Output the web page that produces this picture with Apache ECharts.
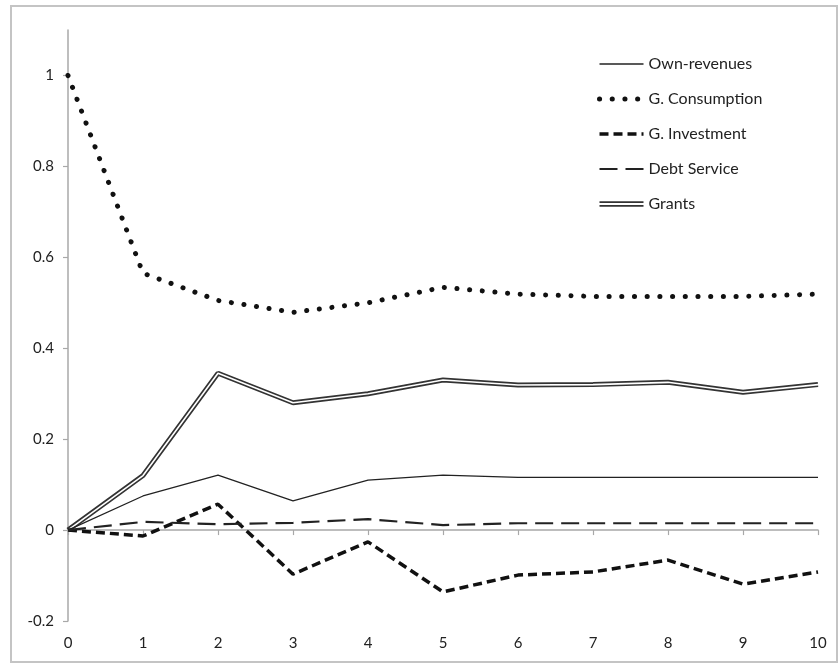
<!DOCTYPE html>
<html>
<head>
<meta charset="utf-8">
<script src="https://cdn.jsdelivr.net/npm/echarts@6/dist/echarts.min.js"></script>
<style>
html,body{margin:0;padding:0;background:#fff;}
#chart{width:840px;height:664px;}
</style>
</head>
<body>
<div id="chart"></div>
<script>
const periods = [0, 1, 2, 3, 4, 5, 6, 7, 8, 9, 10];
const ownRevenues = [0, 0.075, 0.121, 0.064, 0.11, 0.121, 0.116, 0.116, 0.116, 0.116, 0.116];
const gConsumption = [1.0, 0.565, 0.505, 0.479, 0.50, 0.534, 0.519, 0.514, 0.514, 0.514, 0.519];
const gInvestment = [0, -0.013, 0.057, -0.097, -0.026, -0.136, -0.099, -0.092, -0.066, -0.119, -0.092];
const debtService = [0, 0.018, 0.013, 0.016, 0.024, 0.011, 0.015, 0.015, 0.015, 0.015, 0.015];
const grants = [0, 0.12, 0.345, 0.28, 0.30, 0.33, 0.319, 0.32, 0.325, 0.303, 0.32];
const yTicks = [-0.2, 0, 0.2, 0.4, 0.6, 0.8, 1];
const xTicks = [0, 1, 2, 3, 4, 5, 6, 7, 8, 9, 10];

const pair = arr => periods.map((x, i) => [x, arr[i]]);
const FONT = 'Lato';
const INK = '#222';

const chart = echarts.init(document.getElementById('chart'), null, {renderer: 'canvas'});
chart.setOption({
  animation: false,
  backgroundColor: '#fff',
  graphic: [{
    type: 'rect', silent: true, z: -10,
    shape: {x: 11, y: 6, width: 826, height: 656},
    style: {fill: 'none', stroke: '#c4c4c4', lineWidth: 2}
  }],
  grid: {left: 68, right: 22, top: 30, bottom: 43},
  legend: {
    orient: 'vertical',
    left: 597, top: 56, padding: 0,
    itemWidth: 44, itemHeight: 8, itemGap: 19,
    itemStyle: {opacity: 0},
    lineStyle: {width: 'inherit'},
    textStyle: {fontFamily: FONT, fontSize: 16, color: INK, lineHeight: 14, padding: [0, 0, 0, 0]},
    data: [
      {name: 'Own-revenues'},
      {name: 'G. Consumption'},
      {name: 'G. Investment'},
      {name: 'Debt Service'},
      {name: 'Grants', icon: 'path://M0,0H40V1.6H0Z M0,3.4H40V5H0Z', itemStyle: {opacity: 1}}
    ]
  },
  xAxis: {
    type: 'value', min: 0, max: 10, interval: 1,
    axisLine: {lineStyle: {color: '#a8a8a8', width: 1.5}},
    axisTick: {show: true, length: 5, lineStyle: {color: '#a8a8a8', width: 1.2}, customValues: xTicks},
    axisLabel: {fontFamily: FONT, fontSize: 15, color: INK, margin: 15, customValues: xTicks},
    splitLine: {show: false}
  },
  yAxis: {
    type: 'value', min: -0.2, max: 1.1, interval: 0.2,
    axisLine: {show: true, onZero: false, lineStyle: {color: '#a8a8a8', width: 1.5}},
    axisTick: {show: true, length: 5, lineStyle: {color: '#a8a8a8', width: 1.2}, customValues: yTicks},
    axisLabel: {
      fontFamily: FONT, fontSize: 15, color: INK, margin: 14, customValues: yTicks,
      formatter: v => String(Math.round(v * 10) / 10)
    },
    splitLine: {show: false}
  },
  series: [
    {
      name: 'Grants', type: 'line', data: pair(grants), symbol: 'none', z: 2,
      color: '#333',
      lineStyle: {color: '#333', width: 5}
    },
    {
      name: 'grants-inner', type: 'line', data: pair(grants), symbol: 'none', z: 3,
      silent: true, color: '#fff',
      lineStyle: {color: '#fff', width: 1.6}
    },
    {
      name: 'Own-revenues', type: 'line', data: pair(ownRevenues), symbol: 'none', z: 4,
      color: '#222',
      lineStyle: {color: '#222', width: 1.3}
    },
    {
      name: 'G. Consumption', type: 'line', data: pair(gConsumption), symbol: 'none', z: 4,
      color: '#111',
      lineStyle: {color: '#111', width: 5, type: [0.1, 12.6], cap: 'round'}
    },
    {
      name: 'G. Investment', type: 'line', data: pair(gInvestment), symbol: 'none', z: 4,
      color: '#111',
      lineStyle: {color: '#111', width: 3.5, type: [9, 5]}
    },
    {
      name: 'Debt Service', type: 'line', data: pair(debtService), symbol: 'none', z: 4,
      color: '#222',
      lineStyle: {color: '#222', width: 2.2, type: [18, 8]}
    }
  ]
});
</script>
</body>
</html>
